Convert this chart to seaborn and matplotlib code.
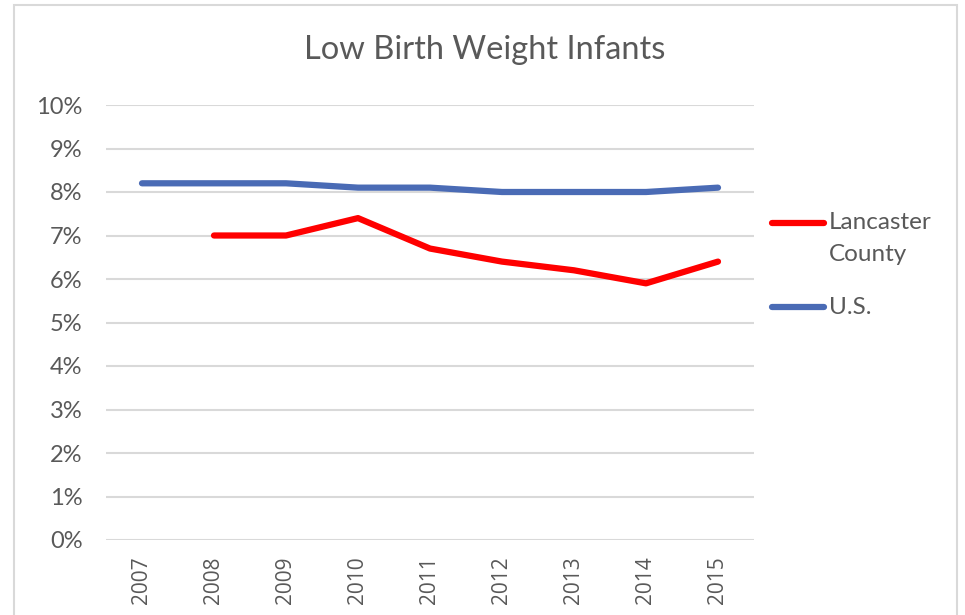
import numpy as np
import pandas as pd
import matplotlib
matplotlib.use("Agg")
import matplotlib.pyplot as plt
from matplotlib.patches import Rectangle
from matplotlib.lines import Line2D
import seaborn as sns

years = ["2007", "2008", "2009", "2010", "2011", "2012", "2013", "2014", "2015"]
lancaster = [np.nan, 7.0, 7.0, 7.4, 6.7, 6.4, 6.2, 5.9, 6.4]
us = [8.2, 8.2, 8.2, 8.1, 8.1, 8.0, 8.0, 8.0, 8.1]
series_names = ["Lancaster\nCounty", "U.S."]
y_ticks = list(range(0, 11))

df = pd.DataFrame({
    "year": years * 2,
    "pct": lancaster + us,
    "series": [series_names[0]] * len(years) + [series_names[1]] * len(years),
})
df["x"] = np.tile(np.arange(len(years)), 2)

sns.set_style("white")
plt.rcParams["font.family"] = ["Lato", "DejaVu Sans"]

W, H = 965, 615
fig = plt.figure(figsize=(W / 100, H / 100), dpi=100)
ax = fig.add_axes([106 / W, 1 - 540 / H, (754 - 106) / W, (540 - 105) / H])

# light chart-area frame
fig.patches.append(Rectangle((14 / W, -0.1), (957 - 14) / W, 1.1 - 5 / H,
                             transform=fig.transFigure, fill=False,
                             edgecolor="#d9d9d9", linewidth=1.5))

palette = {series_names[0]: "#ff0000", series_names[1]: "#4a6bb5"}
sns.lineplot(data=df, x="x", y="pct", hue="series", palette=palette,
             linewidth=4.5, ax=ax, legend=False)
for ln in ax.lines:
    ln.set_solid_capstyle("round")
    ln.set_solid_joinstyle("round")

ax.set_xlim(-0.5, len(years) - 0.5)
ax.set_ylim(0, 10)
ax.set_yticks(y_ticks)
ax.set_yticklabels([f"{t}%" for t in y_ticks])
ax.set_xticks(range(len(years)))
ax.set_xticklabels(years, rotation=90, fontfamily="Open Sans", fontsize=15)
ax.yaxis.grid(True, color="#d9d9d9", linewidth=1.5)
ax.set_axisbelow(True)
for s in ax.spines.values():
    s.set_visible(False)
ax.tick_params(axis="y", labelsize=17, colors="#595959", length=0, pad=17)
ax.tick_params(axis="x", colors="#595959", length=0, pad=12)
ax.set_xlabel("")
ax.set_ylabel("")

fig.text(485 / W, 1 - 50 / H, "Low Birth Weight Infants", ha="center", va="center",
         fontsize=23.5, color="#595959")

# legend to the right of the plot area, handle aligned with the first text line
legend_rows = [(series_names[0], 223), (series_names[1], 307)]
for name, ypx in legend_rows:
    fig.add_artist(Line2D([772 / W, 824 / W], [1 - ypx / H] * 2,
                          color=palette[name], linewidth=4.5,
                          solid_capstyle="round", transform=fig.transFigure))
    for i, part in enumerate(name.split("\n")):
        fig.text(829 / W, 1 - (ypx + 32 * i) / H, part, ha="left", va="center",
                 fontsize=17.5, color="#595959")

fig.savefig("out.png", dpi=100, facecolor="white")
